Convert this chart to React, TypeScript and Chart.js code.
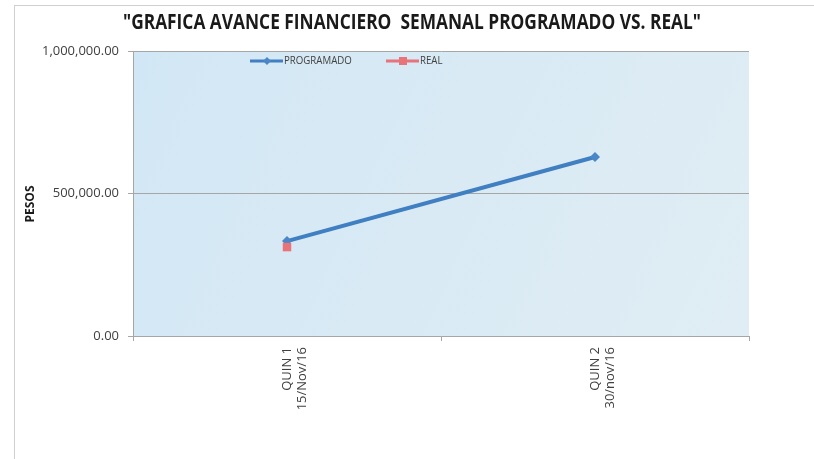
import React, { useEffect, useRef } from "react";
import { Chart, registerables } from "chart.js";

Chart.register(...registerables);

const categories: string[][] = [
  ["QUIN 1", "15/Nov/16"],
  ["QUIN 2", "30/nov/16"],
];
const programado: (number | null)[] = [333000, 628000];
const real: (number | null)[] = [312000, null];
const yTicks: number[] = [0, 500000, 1000000];

const TITLE = '"GRAFICA AVANCE FINANCIERO  SEMANAL PROGRAMADO VS. REAL"';
const Y_TITLE = "PESOS";
const FONT = "'Open Sans', 'Roboto', sans-serif";
const TEXT = "#404040";

const bgPlugin = {
  id: "plotBg",
  beforeDraw(chart: any) {
    const { ctx, chartArea: a } = chart;
    ctx.save();
    ctx.fillStyle = "#ffffff";
    ctx.fillRect(0, 0, chart.width, chart.height);
    ctx.strokeStyle = "#d0d0d0";
    ctx.lineWidth = 1;
    ctx.strokeRect(14.5, 5.5, chart.width, chart.height);
    const g = ctx.createLinearGradient(a.left, a.top, a.right, a.bottom);
    g.addColorStop(0, "#d2e7f5");
    g.addColorStop(1, "#e0edf4");
    ctx.fillStyle = g;
    ctx.fillRect(a.left, a.top, a.right - a.left, a.bottom - a.top);
    ctx.restore();
  },
};

const textPlugin = {
  id: "customText",
  afterDraw(chart: any) {
    const { ctx } = chart;
    ctx.save();
    // title (condensed to match the narrow original face)
    ctx.font = `bold 21px ${FONT}`;
    ctx.fillStyle = "#1a1a1a";
    ctx.textAlign = "center";
    ctx.textBaseline = "middle";
    const w = ctx.measureText(TITLE).width;
    const target = 578;
    ctx.translate(412, 23);
    ctx.scale(target / w, 1);
    ctx.fillText(TITLE, 0, 0);
    ctx.restore();

    ctx.save();
    ctx.font = `bold 12px ${FONT}`;
    ctx.fillStyle = "#1a1a1a";
    ctx.textAlign = "center";
    ctx.textBaseline = "middle";
    ctx.translate(31, 204);
    ctx.rotate(-Math.PI / 2);
    ctx.fillText(Y_TITLE, 0, 0);
    ctx.restore();

    // legend inside plot area
    const items = [
      { x: 250, ds: chart.data.datasets[1] },
      { x: 386, ds: chart.data.datasets[0] },
    ];
    ctx.save();
    ctx.font = `11px ${FONT}`;
    ctx.textBaseline = "middle";
    ctx.textAlign = "left";
    const y = 61;
    for (const it of items) {
      const ds = it.ds;
      ctx.strokeStyle = ds.borderColor;
      ctx.lineWidth = 3;
      ctx.beginPath();
      ctx.moveTo(it.x, y);
      ctx.lineTo(it.x + 33, y);
      ctx.stroke();
      ctx.fillStyle = ds.pointBackgroundColor;
      const cx = it.x + 17;
      if (ds.pointStyle === "rectRot") {
        ctx.beginPath();
        ctx.moveTo(cx, y - 4);
        ctx.lineTo(cx + 4, y);
        ctx.lineTo(cx, y + 4);
        ctx.lineTo(cx - 4, y);
        ctx.closePath();
        ctx.fill();
      } else {
        ctx.fillRect(cx - 4, y - 4, 8, 8);
      }
      ctx.fillStyle = TEXT;
      ctx.save();
      ctx.translate(it.x + 34, y);
      ctx.scale(0.88, 1);
      ctx.fillText(ds.label, 0, 0);
      ctx.restore();
    }
    ctx.restore();
  },
};

export default function App() {
  const ref = useRef<HTMLCanvasElement>(null);
  useEffect(() => {
    if (!ref.current) return;
    const chart = new Chart(ref.current, {
      type: "line",
      data: {
        labels: categories as any,
        datasets: [
          {
            label: "REAL",
            data: real,
            order: 0,
            showLine: false,
            borderColor: "#e8737a",
            backgroundColor: "#e8737a",
            pointBackgroundColor: "#e8737a",
            pointBorderColor: "#e8737a",
            pointStyle: "rect",
            pointRadius: 6,
            pointBorderWidth: 0,
          } as any,
          {
            label: "PROGRAMADO",
            data: programado,
            order: 1,
            borderColor: "#3f7fc2",
            backgroundColor: "#4a86c8",
            pointBackgroundColor: "#4a86c8",
            pointBorderColor: "#4a86c8",
            borderWidth: 4,
            pointStyle: "rectRot",
            pointRadius: 5,
            pointBorderWidth: 0,
            tension: 0,
          } as any,
        ],
      },
      options: {
        responsive: false,
        animation: false,
        layout: { padding: { left: 10, right: 65, top: 51, bottom: 0 } },
        plugins: {
          legend: { display: false },
          tooltip: { enabled: false },
          title: { display: false },
        },
        scales: {
          x: {
            offset: true,
            grid: {
              display: true,
              drawOnChartArea: false,
              offset: true,
              tickLength: 5,
              color: "#a6a6a6",
            },
            border: { color: "#a6a6a6" },
            ticks: {
              maxRotation: 90,
              minRotation: 90,
              padding: 6,
              color: TEXT,
              font: { family: FONT, size: 13 },
            },
            afterFit(scale: any) {
              scale.height = 123;
            },
          },
          y: {
            min: 0,
            max: 1000000,
            afterBuildTicks(scale: any) {
              scale.ticks = yTicks.map((v) => ({ value: v }));
            },
            grid: { color: "#a6a6a6", tickLength: 5 },
            border: { color: "#a6a6a6" },
            ticks: {
              padding: 9,
              color: TEXT,
              font: { family: FONT, size: 13 },
              callback: (v: any) =>
                Number(v).toLocaleString("en-US", {
                  minimumFractionDigits: 2,
                  maximumFractionDigits: 2,
                }),
            },
            afterFit(scale: any) {
              scale.width = 123;
            },
          },
        },
      },
      plugins: [bgPlugin, textPlugin],
    });
    return () => chart.destroy();
  }, []);
  return (
    <div style={{ position: "fixed", left: 0, top: 0, width: 814, height: 459, background: "#fff" }}>
      <canvas ref={ref} width={814} height={459} style={{ display: "block" }} />
    </div>
  );
}
